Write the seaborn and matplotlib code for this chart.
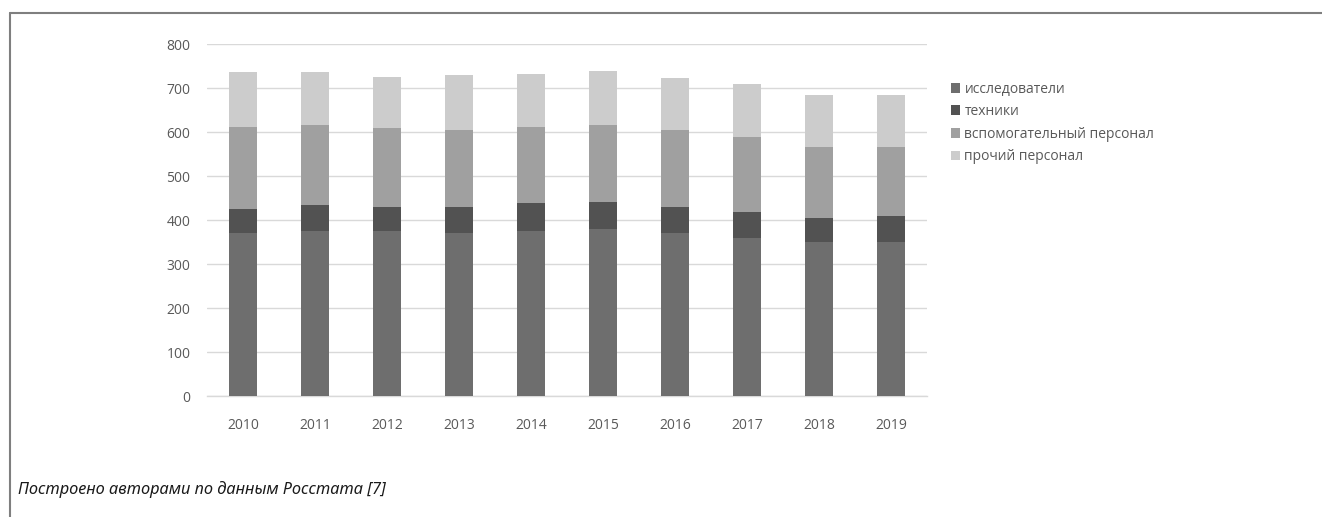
import matplotlib
matplotlib.use("Agg")
import matplotlib.pyplot as plt
from matplotlib.lines import Line2D
from matplotlib.patches import Patch
import numpy as np
import pandas as pd
import seaborn as sns

# Численность персонала, занятого исследованиями и разработками (тыс. чел.)
years = ["2010", "2011", "2012", "2013", "2014", "2015", "2016", "2017", "2018", "2019"]
researchers = [370, 374, 374, 370, 374, 379, 370, 360, 349, 349]
technicians = [55, 60, 56, 60, 64, 63, 60, 59, 55, 59]
support_staff = [187, 182, 178, 175, 174, 174, 175, 169, 161, 157]
other_staff = [124, 120, 118, 125, 120, 123, 117, 120, 119, 119]

series_names = ["исследователи", "техники", "вспомогательный персонал", "прочий персонал"]
series_colors = ["#6e6e6e", "#525252", "#a0a0a0", "#cccccc"]
y_ticks = [0, 100, 200, 300, 400, 500, 600, 700, 800]
caption = "Построено авторами по данным Росстата [7]"

sns.set_theme(style="white")
plt.rcParams["font.family"] = ["Open Sans", "DejaVu Sans"]

df = pd.DataFrame({
    "year": years,
    series_names[0]: researchers,
    series_names[1]: technicians,
    series_names[2]: support_staff,
    series_names[3]: other_staff,
})
layers = df[series_names].cumsum(axis=1)

fig = plt.figure(figsize=(13.22, 5.17), dpi=100)
ax = fig.add_axes([207 / 1322, 1 - 396 / 517, 720 / 1322, 352 / 517])

# Stacked columns: cumulative totals drawn from the top layer down
for name, color in reversed(list(zip(series_names, series_colors))):
    sns.barplot(x=df["year"], y=layers[name], color=color, width=0.39,
                saturation=1, ax=ax, zorder=3, linewidth=0)

ax.set_ylim(0, 800)
ax.set_xlim(-0.5, len(years) - 0.5)
ax.set_yticks(y_ticks)
ax.set_yticklabels([str(t) for t in y_ticks])
ax.set_xlabel("")
ax.set_ylabel("")
ax.yaxis.grid(True, color="#d9d9d9", linewidth=1.0, zorder=0)
ax.set_axisbelow(True)
for side in ["top", "right", "left"]:
    ax.spines[side].set_visible(False)
ax.spines["bottom"].set_color("#d9d9d9")
ax.spines["bottom"].set_linewidth(1.0)
ax.tick_params(axis="both", length=0, labelsize=10, colors="#595959")
ax.tick_params(axis="y", pad=12)
ax.tick_params(axis="x", pad=16)

handles = [Patch(facecolor=c, edgecolor="none") for c in series_colors]
leg = fig.legend(handles, series_names, loc="upper left",
                 bbox_to_anchor=(945 / 1322, 1 - 76 / 517), frameon=False,
                 fontsize=10, handlelength=0.7, handleheight=0.7,
                 handletextpad=0.3, labelspacing=0.55, borderaxespad=0)
for t in leg.get_texts():
    t.set_color("#595959")

fig.text(18 / 1322, 1 - 490 / 517, caption, fontsize=11.8, style="italic",
         color="#1a1a1a", va="center", ha="left", family=["Noto Sans", "DejaVu Sans"])

# Frame lines along the top and left edges of the figure
fig.add_artist(Line2D([10 / 1322, 1.0], [1 - 13 / 517, 1 - 13 / 517],
                      color="#7f7f7f", linewidth=1.5, transform=fig.transFigure))
fig.add_artist(Line2D([10 / 1322, 10 / 1322], [0.0, 1 - 13 / 517],
                      color="#7f7f7f", linewidth=1.5, transform=fig.transFigure))

fig.savefig("out.png", dpi=100)
